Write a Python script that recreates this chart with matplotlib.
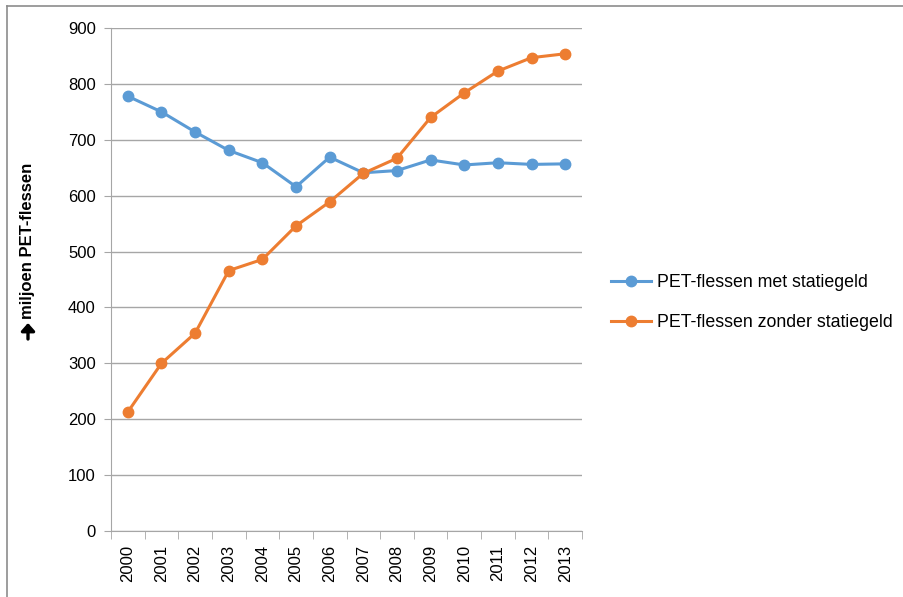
import matplotlib
matplotlib.use("Agg")
import matplotlib.pyplot as plt
from matplotlib.lines import Line2D

# data
years = ["2000", "2001", "2002", "2003", "2004", "2005", "2006",
         "2007", "2008", "2009", "2010", "2011", "2012", "2013"]
met_statiegeld = [778, 750, 714, 681, 659, 616, 669,
                  641, 645, 664, 655, 659, 656, 657]
zonder_statiegeld = [213, 300, 354, 466, 486, 546, 589,
                     640, 667, 740, 784, 823, 847, 854]
yticks = [0, 100, 200, 300, 400, 500, 600, 700, 800, 900]

blue = "#5B9BD5"
orange = "#ED7D31"
grid_col = "#A6A6A6"

plt.rcParams['font.family'] = ['Liberation Sans', 'DejaVu Sans']

fig = plt.figure(figsize=(9.04, 5.97), dpi=100)
ax = fig.add_axes([0.1228, 0.1106, 0.521, 0.8424])

x = list(range(len(years)))
ax.plot(x, met_statiegeld, color=blue, lw=2.2, marker='o', ms=7.5,
        label="PET-flessen met statiegeld")
ax.plot(x, zonder_statiegeld, color=orange, lw=2.2, marker='o', ms=7.5,
        label="PET-flessen zonder statiegeld")

ax.set_xlim(-0.5, len(years) - 0.5)
ax.set_ylim(0, 900)
ax.set_yticks(yticks)
ax.tick_params(axis='y', labelsize=12, length=5, color=grid_col, pad=6)
ax.yaxis.grid(True, color=grid_col, lw=1)
ax.set_axisbelow(True)

# category labels at centres, tick marks at boundaries
ax.set_xticks(x)
ax.set_xticklabels(years, rotation=90, fontsize=12)
ax.tick_params(axis='x', length=0, pad=10)
ax.set_xticks([i - 0.5 for i in range(len(years) + 1)], minor=True)
ax.tick_params(axis='x', which='minor', length=6, color=grid_col)

for s in ['top', 'right']:
    ax.spines[s].set_visible(False)
ax.spines['left'].set_color(grid_col)
ax.spines['bottom'].set_color(grid_col)

# y title: heavy up arrow followed by bold text
fig.text(28 / 904, 1 - 241 / 597, "miljoen PET-flessen", rotation=90,
         ha='center', va='center', fontsize=12, fontweight='bold')
fig.add_artist(plt.Annotation("", xy=(28 / 904, 1 - 323 / 597), xycoords='figure fraction',
                              xytext=(28 / 904, 1 - 339 / 597), textcoords='figure fraction',
                              arrowprops=dict(arrowstyle='-|>,head_length=0.45,head_width=0.4',
                                              lw=2.4, color='black', shrinkA=0, shrinkB=0)))

fig.legend(loc='center left', bbox_to_anchor=(611 / 904, 1 - 302.5 / 597), frameon=False,
           fontsize=12.8, handlelength=2.27, labelspacing=1.3, handletextpad=0.3,
           borderpad=0, borderaxespad=0)

# frame edges visible in the reference (left and top)
fig.add_artist(Line2D([7 / 904, 7 / 904], [0, 1 - 6 / 597], color="#8C8C8C", lw=1.2))
fig.add_artist(Line2D([7 / 904, 1], [1 - 6 / 597, 1 - 6 / 597], color="#8C8C8C", lw=1.2))

fig.savefig("out.png", dpi=100)
